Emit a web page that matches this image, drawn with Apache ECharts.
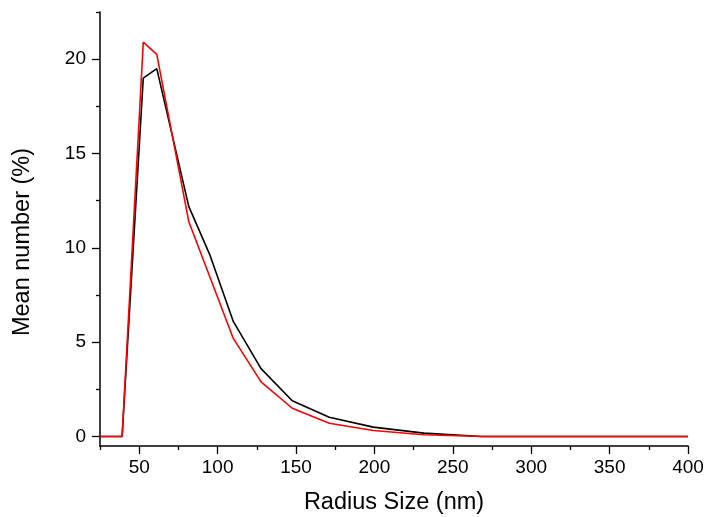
<!DOCTYPE html>
<html>
<head>
<meta charset="utf-8">
<script src="https://cdn.jsdelivr.net/npm/echarts@6/dist/echarts.min.js"></script>
<style>
  html, body { margin: 0; padding: 0; background: #fff; }
  #chart { width: 706px; height: 517px; }
</style>
</head>
<body>
<div id="chart"></div>
<script>
// Size distribution by number: radius (nm) against mean number (%)
const radiusBlack = [25, 39.1, 52.6, 61.2, 81.6, 95.2, 110, 127.7, 147.6, 171.2, 199.3, 231.5, 268.5, 400];
const meanBlack   = [0, 0, 19.0, 19.5, 12.2, 9.6, 6.1, 3.6, 1.9, 1.02, 0.5, 0.18, 0, 0];

const radiusRed = [25, 39.1, 52.6, 61.2, 81.6, 110, 127.7, 147.6, 171.2, 199.3, 231.5, 268.5, 400];
const meanRed   = [0, 0, 20.9, 20.25, 11.4, 5.2, 2.9, 1.5, 0.71, 0.32, 0.1, 0, 0];

const xMajorTicks = [50, 100, 150, 200, 250, 300, 350, 400];
const xMinorTicks = [25, 75, 125, 175, 225, 275, 325, 375];
const yMajorTicks = [0, 5, 10, 15, 20];
const yMinorTicks = [2.5, 7.5, 12.5, 17.5, 22.5];

const xTitle = 'Radius Size (nm)';
const yTitle = 'Mean number (%)';

const FONT = '"Liberation Sans", Arial, Helvetica, sans-serif';
const pairs = (xs, ys) => xs.map((x, i) => [x, ys[i]]);

const chart = echarts.init(document.getElementById('chart'), null, { renderer: 'canvas' });

const xBase = { type: 'value', min: 25, max: 400, position: 'bottom', splitLine: { show: false } };
const yBase = { type: 'value', min: -0.5, max: 22.5, position: 'left', splitLine: { show: false } };

chart.setOption({
  animation: false,
  backgroundColor: '#ffffff',
  grid: { left: 100, right: 18, top: 12, bottom: 71, containLabel: false, outerBoundsMode: 'none' },
  xAxis: [
    Object.assign({}, xBase, {
      axisLine: { show: true, onZero: false, lineStyle: { color: '#000', width: 1.5 } },
      axisTick: { show: true, inside: false, length: 8, customValues: xMajorTicks, lineStyle: { color: '#000', width: 1.3 } },
      axisLabel: { show: true, customValues: xMajorTicks, margin: 12, fontFamily: FONT, fontSize: 19, color: '#000' }
    }),
    Object.assign({}, xBase, {
      axisLine: { show: false, onZero: false },
      axisTick: { show: true, inside: false, length: 4, customValues: xMinorTicks, lineStyle: { color: '#000', width: 1.3 } },
      axisLabel: { show: false }
    })
  ],
  yAxis: [
    Object.assign({}, yBase, {
      axisLine: { show: true, onZero: false, lineStyle: { color: '#000', width: 1.5 } },
      axisTick: { show: true, inside: false, length: 8, customValues: yMajorTicks, lineStyle: { color: '#000', width: 1.3 } },
      axisLabel: { show: true, customValues: yMajorTicks, margin: 14, fontFamily: FONT, fontSize: 19, color: '#000' }
    }),
    Object.assign({}, yBase, {
      axisLine: { show: false, onZero: false },
      axisTick: { show: true, inside: false, length: 4, customValues: yMinorTicks, lineStyle: { color: '#000', width: 1.3 } },
      axisLabel: { show: false }
    })
  ],
  graphic: [
    {
      type: 'text',
      x: 23,
      y: 242,
      rotation: Math.PI / 2,
      style: {
        text: yTitle,
        fontFamily: FONT,
        fontSize: 23.5,
        fill: '#000',
        textAlign: 'center',
        textVerticalAlign: 'middle'
      }
    },
    {
      type: 'text',
      x: 394,
      y: 503,
      style: {
        text: xTitle,
        fontFamily: FONT,
        fontSize: 23.5,
        fill: '#000',
        textAlign: 'center',
        textVerticalAlign: 'middle'
      }
    }
  ],
  series: [
    {
      name: 'black',
      type: 'line',
      xAxisIndex: 0,
      yAxisIndex: 0,
      showSymbol: false,
      data: pairs(radiusBlack, meanBlack),
      lineStyle: { color: '#000000', width: 1.6 },
      itemStyle: { color: '#000000' }
    },
    {
      name: 'red',
      type: 'line',
      xAxisIndex: 0,
      yAxisIndex: 0,
      showSymbol: false,
      data: pairs(radiusRed, meanRed),
      lineStyle: { color: '#ff0000', width: 1.6 },
      itemStyle: { color: '#ff0000' }
    }
  ]
});
</script>
</body>
</html>
